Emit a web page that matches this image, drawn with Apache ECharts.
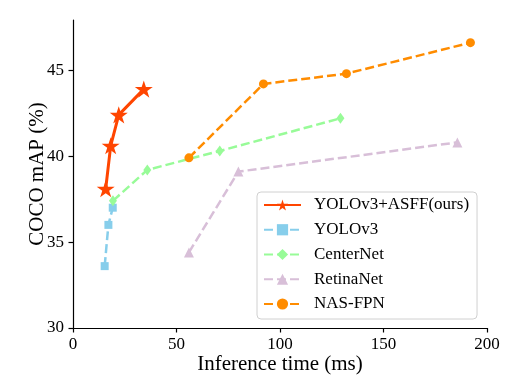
<!DOCTYPE html>
<html>
<head>
<meta charset="utf-8">
<script src="https://cdn.jsdelivr.net/npm/echarts@6/dist/echarts.min.js"></script>
<style>html,body{margin:0;padding:0;background:#fff}#c{width:523px;height:377px}</style>
</head>
<body>
<div id="c"></div>
<script>
// ---- data ----
const seriesNames = ['YOLOv3+ASFF(ours)', 'YOLOv3', 'CenterNet', 'RetinaNet', 'NAS-FPN'];
const asffTime = [15.8, 18.2, 22.1, 34.2];
const asffMAP = [38.1, 40.6, 42.4, 43.9];
const yoloTime = [15.3, 17.1, 19.2];
const yoloMAP = [33.6, 36.0, 37.0];
const centerTime = [19.3, 35.9, 70.9, 129.2];
const centerMAP = [37.4, 39.2, 40.3, 42.2];
const retinaTime = [56.0, 79.9, 185.7];
const retinaMAP = [34.4, 39.1, 40.8];
const nasTime = [56.0, 92.0, 132.1, 192.0];
const nasMAP = [39.9, 44.2, 44.8, 46.6];
const xTicks = [0, 50, 100, 150, 200];
const yTicks = [30, 35, 40, 45];
const xTitle = 'Inference time (ms)';
const yTitle = 'COCO mAP (%)';

const pairs = (xs, ys) => xs.map((x, i) => [x, ys[i]]);
const FONT = "'Liberation Serif', 'Times New Roman', serif";
const STAR = 'path://M100,0 L122.45,69.1 L195.11,69.1 L136.33,111.8 L158.78,180.9 L100,138.2 L41.22,180.9 L63.67,111.8 L4.89,69.1 L77.55,69.1 Z';

const chart = echarts.init(document.getElementById('c'), null, {renderer: 'canvas'});
const dash = [9, 4];
const mk = (name, data, color, symbol, size, solid, width) => ({
  name, type: 'line', data,
  symbol, symbolSize: size, symbolKeepAspect: true,
  showSymbol: true,
  lineStyle: {color, width, type: solid ? 'solid' : dash},
  itemStyle: {color, borderWidth: 0},
  emphasis: {disabled: true},
  animation: false,
  z: solid ? 5 : 2
});

chart.setOption({
  animation: false,
  grid: {left: 73, right: 36, top: 20, bottom: 49, containLabel: false, outerBoundsMode: 'none'},
  xAxis: {
    type: 'value', min: 0, max: 200, interval: 50,
    name: xTitle, nameLocation: 'middle', nameGap: 26, nameMoveOverlap: false,
    nameTextStyle: {fontFamily: FONT, fontSize: 21, color: '#000'},
    axisLine: {show: true, lineStyle: {color: '#000', width: 1.2}},
    axisTick: {show: true, length: 4.5, lineStyle: {color: '#000', width: 1.2}, customValues: xTicks},
    axisLabel: {fontFamily: FONT, fontSize: 17, color: '#000', margin: 8, customValues: xTicks},
    splitLine: {show: false}
  },
  yAxis: {
    type: 'value', min: 30, max: 47.92, interval: 5,
    name: yTitle, nameLocation: 'middle', nameGap: 25, nameMoveOverlap: false,
    nameTextStyle: {fontFamily: FONT, fontSize: 21, color: '#000'},
    axisLine: {show: true, lineStyle: {color: '#000', width: 1.2}},
    axisTick: {show: true, length: 4.5, lineStyle: {color: '#000', width: 1.2}, customValues: yTicks},
    axisLabel: {fontFamily: FONT, fontSize: 17, color: '#000', margin: 9, customValues: yTicks},
    splitLine: {show: false}
  },
  legend: {
    orient: 'vertical', left: 257, top: 192,
    data: seriesNames,
    itemWidth: 37, itemHeight: 14, itemGap: 6.75,
    padding: [4, 8, 6, 6],
    borderColor: '#d0d0d0', borderWidth: 1, borderRadius: 4,
    backgroundColor: 'rgba(255,255,255,0.8)',
    textStyle: {fontFamily: FONT, fontSize: 17, color: '#000', lineHeight: 18, padding: [0, 0, 0, 8]}
  },
  series: [
    mk(seriesNames[0], pairs(asffTime, asffMAP), '#FF4500', STAR, 18, true, 3),
    mk(seriesNames[1], pairs(yoloTime, yoloMAP), '#87CEEB', 'rect', 8, false, 2.5),
    mk(seriesNames[2], pairs(centerTime, centerMAP), '#98FB98', 'diamond', [8, 11], false, 2.5),
    mk(seriesNames[3], pairs(retinaTime, retinaMAP), '#D8BFD8', 'triangle', 10, false, 2.5),
    mk(seriesNames[4], pairs(nasTime, nasMAP), '#FF8C00', 'circle', 9, false, 2.5)
  ]
});
</script>
</body>
</html>
